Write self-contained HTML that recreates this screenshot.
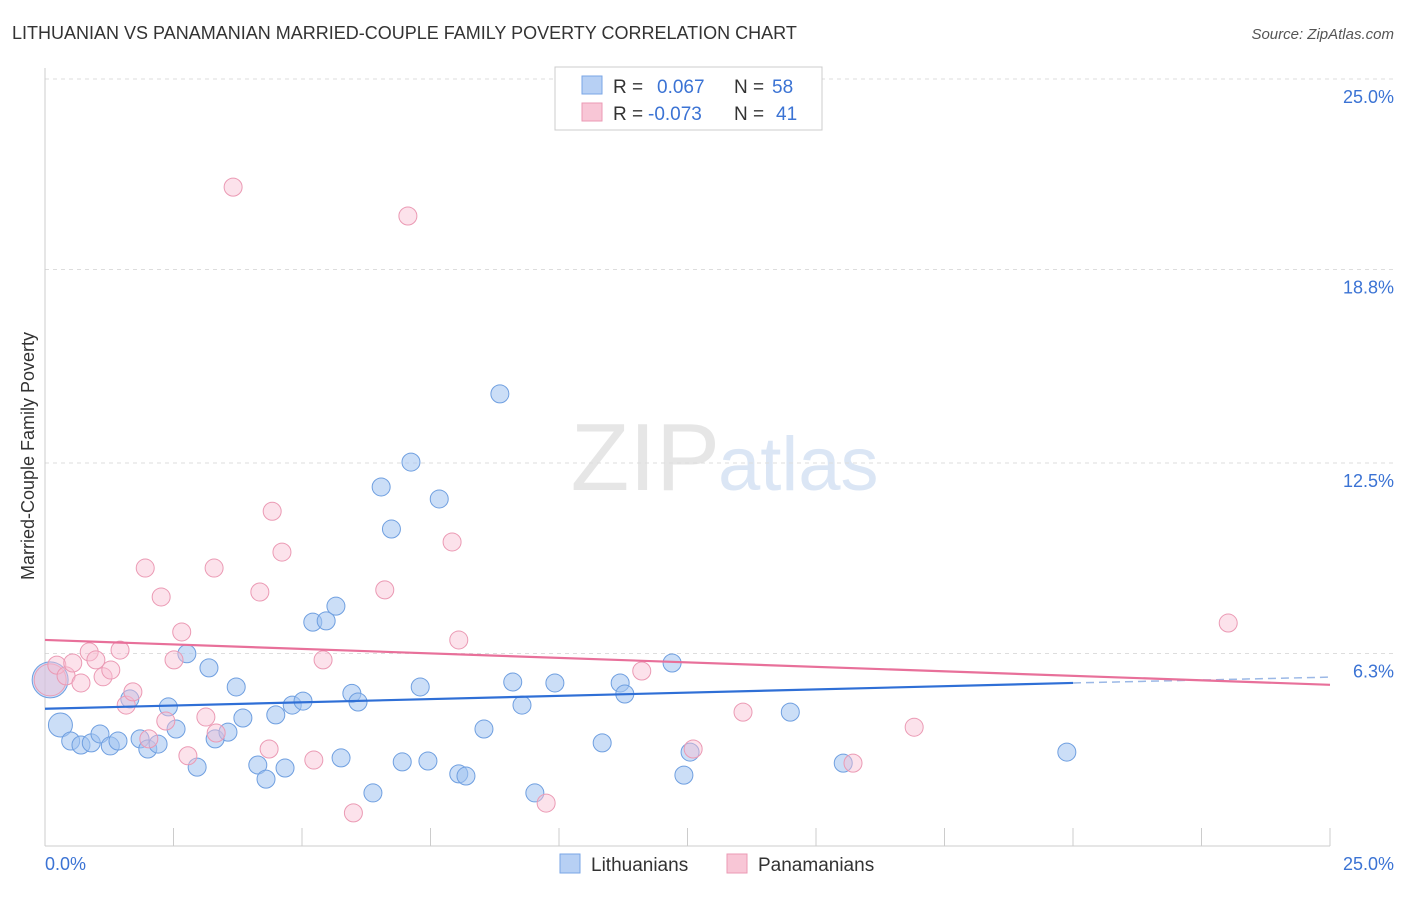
<!DOCTYPE html>
<html><head><meta charset="utf-8"><style>
body{margin:0;background:#fff;font-family:"Liberation Sans",sans-serif;}
svg text{font-family:"Liberation Sans",sans-serif;}
</style></head><body>
<svg id="chart" width="1406" height="892" xmlns="http://www.w3.org/2000/svg">
<text x="12" y="39" font-size="18" fill="#333">LITHUANIAN VS PANAMANIAN MARRIED-COUPLE FAMILY POVERTY CORRELATION CHART</text>
<text x="1394" y="39" font-size="15" fill="#555" font-style="italic" text-anchor="end">Source: ZipAtlas.com</text>
<text x="720" y="490" font-size="96" fill="#e6e6e6" font-family="Liberation Serif" text-anchor="end">ZIP</text>
<text x="718" y="490" font-size="76" fill="#dbe6f5">atlas</text>
<g id="grid"></g>
<line x1="45" y1="68" x2="45" y2="846" stroke="#ccc"/>
<line x1="45" y1="846" x2="1330" y2="846" stroke="#ccc"/>
<text transform="translate(34,456) rotate(-90)" font-size="18" fill="#333" text-anchor="middle">Married-Couple Family Poverty</text>
<text x="45" y="870" font-size="18" fill="#3b73d4">0.0%</text>
<text x="1394" y="870" font-size="18" fill="#3b73d4" text-anchor="end">25.0%</text>
<g id="marks"></g>
<g>
<rect x="555" y="67" width="267" height="63" fill="#fff" stroke="#ccc"/>
<rect x="582" y="76" width="20" height="18" fill="#b7d0f4" stroke="#7aa6e6"/>
<rect x="582" y="103" width="20" height="18" fill="#f8c6d6" stroke="#eb9ab4"/>
<text x="613" y="93" font-size="19" fill="#333">R = <tspan fill="#3b73d4" x="657">0.067</tspan><tspan x="734" fill="#333">N = </tspan><tspan fill="#3b73d4" x="772">58</tspan></text>
<text x="613" y="120" font-size="19" fill="#333">R = <tspan fill="#3b73d4" x="648">-0.073</tspan><tspan x="734" fill="#333">N = </tspan><tspan fill="#3b73d4" x="776">41</tspan></text>
</g>
<g>
<rect x="560" y="854" width="20" height="19" fill="#b7d0f4" stroke="#7aa6e6"/>
<text x="591" y="871" font-size="19" fill="#333">Lithuanians</text>
<rect x="727" y="854" width="20" height="19" fill="#f8c6d6" stroke="#eb9ab4"/>
<text x="758" y="871" font-size="19" fill="#333">Panamanians</text>
</g>
</svg>
<script>
const yTicks=[25.0,18.8,12.5,6.3];
const yTickLabels=["25.0%","18.8%","12.5%","6.3%"];
const xTicks=[0,2.5,5,7.5,10,12.5,15,17.5,20,22.5,25];
const lithX=[0.1,0.3,0.5,0.7,0.9,1.07,1.27,1.42,1.65,1.85,2.0,2.2,2.4,2.55,2.76,2.96,3.19,3.31,3.56,3.72,3.85,4.14,4.3,4.49,4.67,4.81,5.02,5.21,5.47,5.66,5.76,5.97,6.09,6.38,6.54,6.74,6.95,7.12,7.3,7.45,7.67,8.05,8.19,8.54,8.85,9.1,9.28,9.53,9.92,10.84,11.19,11.28,12.2,12.43,12.55,14.5,15.53,19.88];
const lithY=[5.44,3.97,3.45,3.32,3.39,3.68,3.29,3.45,4.82,3.52,3.19,3.35,4.56,3.84,6.29,2.6,5.83,3.52,3.74,5.21,4.2,2.67,2.21,4.3,2.57,4.62,4.75,7.32,7.36,7.84,2.9,5.0,4.72,1.76,11.72,10.35,2.77,12.53,5.21,2.8,11.33,2.38,2.31,3.84,14.75,5.37,4.62,1.76,5.34,3.39,5.34,4.98,5.99,2.34,3.09,4.39,2.73,3.09];
const lithR=[18,12,9,9,9,9,9,9,9,9,9,9,9,9,9,9,9,9,9,9,9,9,9,9,9,9,9,9,9,9,9,9,9,9,9,9,9,9,9,9,9,9,9,9,9,9,9,9,9,9,9,9,9,9,9,9,9,9];
const panX=[0.1,0.23,0.41,0.54,0.7,0.86,0.99,1.13,1.28,1.46,1.58,1.71,1.95,2.02,2.26,2.35,2.51,2.66,2.78,3.13,3.29,3.33,3.66,4.18,4.36,4.42,4.61,5.23,5.41,6.0,6.61,7.06,7.92,8.05,9.75,11.61,12.61,13.58,15.72,16.91,23.02];
const panY=[5.44,5.92,5.57,5.99,5.34,6.35,6.09,5.54,5.76,6.41,4.62,5.05,9.08,3.52,8.14,4.1,6.09,7.0,2.97,4.23,9.08,3.71,21.48,8.3,3.19,10.93,9.6,2.83,6.09,1.11,8.37,20.54,9.93,6.74,1.43,5.73,3.19,4.39,2.73,3.9,7.29];
const panR=[16,9,9,9,9,9,9,9,9,9,9,9,9,9,9,9,9,9,9,9,9,9,9,9,9,9,9,9,9,9,9,9,9,9,9,9,9,9,9,9,9];
const lithTrend=[[0,4.5],[20,5.34],[25,5.53]];
const panTrend=[[0,6.74],[25,5.28]];
const NS="http://www.w3.org/2000/svg";
const xs=v=>45+v*51.4, ys=v=>847-v*30.72;
const grid=document.getElementById('grid'), marks=document.getElementById('marks');
function mk(t,a,p){const e=document.createElementNS(NS,t);for(const k in a)e.setAttribute(k,a[k]);p.appendChild(e);return e;}
yTicks.forEach((v,i)=>{
 const l=mk('line',{x1:45,x2:1394,y1:ys(v),y2:ys(v),stroke:'#ddd','stroke-dasharray':'4,4'},grid);
 
 
 const t=mk('text',{x:1394,y:ys(v)+24,'font-size':18,fill:'#3b73d4','text-anchor':'end'},grid);
 t.textContent=yTickLabels[i];
 
 
});
xTicks.forEach(v=>{
 const l=mk('line',{x1:xs(v),x2:xs(v),y1:828,y2:846,stroke:'#ccc'},grid);
 
 
});
lithX.forEach((v,i)=>{
 const c=mk('circle',{cx:xs(v),cy:ys(lithY[i]),r:lithR[i],fill:'rgba(160,195,240,0.55)',stroke:'#6f9fe0','stroke-width':1},marks);
 
 
});
panX.forEach((v,i)=>{
 const c=mk('circle',{cx:xs(v),cy:ys(panY[i]),r:panR[i],fill:'rgba(248,190,210,0.45)',stroke:'#eb9ab4','stroke-width':1},marks);
 
 
});
let l1=mk('line',{x1:xs(lithTrend[0][0]),y1:ys(lithTrend[0][1]),x2:xs(lithTrend[1][0]),y2:ys(lithTrend[1][1]),stroke:'#2f6fd6','stroke-width':2.2},marks);


let l2=mk('line',{x1:xs(lithTrend[1][0]),y1:ys(lithTrend[1][1]),x2:xs(lithTrend[2][0]),y2:ys(lithTrend[2][1]),stroke:'#9bb8e6','stroke-width':1.5,'stroke-dasharray':'8,5'},marks);


let l3=mk('line',{x1:xs(panTrend[0][0]),y1:ys(panTrend[0][1]),x2:xs(panTrend[1][0]),y2:ys(panTrend[1][1]),stroke:'#e8709a','stroke-width':2.2},marks);


</script>
</body></html>
